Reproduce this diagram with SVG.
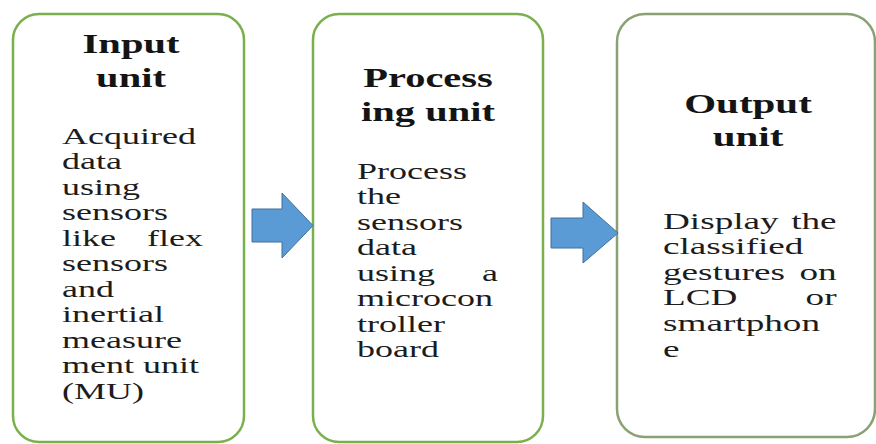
<svg xmlns="http://www.w3.org/2000/svg" width="876" height="444" viewBox="0 0 876 444">
<style>
.box{fill:#ffffff;stroke:#79b04c;stroke-width:2.5}
.box3{fill:#ffffff;stroke:#8aa174;stroke-width:2.5}
.title{font-family:"Liberation Serif","Times New Roman",serif;font-weight:bold;font-size:27px;fill:#141414;text-anchor:middle}
.body{font-family:"Liberation Serif","Times New Roman",serif;font-size:24px;fill:#1c1c1c}
.end{text-anchor:end}
.arrow{fill:#5b9bd5;stroke:#41719c;stroke-width:1}
</style>
<rect width="876" height="444" fill="#ffffff"/>
<g id="input-unit">
<rect class="box" x="13" y="14" width="231" height="428" rx="26" ry="26"/>
<g class="title" transform="translate(131 0) scale(1.5 1)">
<text x="0" y="53">Input</text>
<text x="0" y="87">unit</text>
</g>
<g class="body" transform="translate(62 0) scale(1.5 1)">
<text x="0" y="144">Acquired</text>
<text x="0" y="169.5">data</text>
<text x="0" y="195">using</text>
<text x="0" y="220.5">sensors</text>
<text x="0" y="246">like</text>
<text class="end" x="94" y="246">flex</text>
<text x="0" y="271.5">sensors</text>
<text x="0" y="297">and</text>
<text x="0" y="322.5">inertial</text>
<text x="0" y="348">measure</text>
<text x="0" y="373.5">ment unit</text>
<text x="0" y="399">(MU)</text>
</g>
</g>
<g id="processing-unit">
<rect class="box" x="313" y="14" width="230" height="428" rx="26" ry="26"/>
<g class="title" transform="translate(428 0) scale(1.5 1)">
<text x="0" y="87">Process</text>
<text x="0" y="121">ing unit</text>
</g>
<g class="body" transform="translate(357 0) scale(1.5 1)">
<text x="0" y="179">Process</text>
<text x="0" y="204.5">the</text>
<text x="0" y="230">sensors</text>
<text x="0" y="255.5">data</text>
<text x="0" y="281">using</text>
<text class="end" x="94" y="281">a</text>
<text x="0" y="306.5">microcon</text>
<text x="0" y="332">troller</text>
<text x="0" y="357.5">board</text>
</g>
</g>
<g id="output-unit">
<rect class="box3" x="617" y="14" width="258" height="423" rx="28" ry="28"/>
<g class="title" transform="translate(748 0) scale(1.52 1)">
<text x="0" y="113">Output</text>
<text x="0" y="146">unit</text>
</g>
<g class="body" transform="translate(663 0) scale(1.55 1)">
<text x="0" y="229">Display</text>
<text class="end" x="112" y="229">the</text>
<text x="0" y="254.5">classified</text>
<text x="0" y="280">gestures</text>
<text class="end" x="112" y="280">on</text>
<text x="0" y="305.5">LCD</text>
<text class="end" x="112" y="305.5">or</text>
<text x="0" y="331">smartphon</text>
<text x="0" y="357">e</text>
</g>
</g>
<g id="connectors">
<polygon class="arrow" points="252,209 282,209 282,193 313,225.5 282,258 282,242 252,242"/>
<polygon class="arrow" points="551,218 583,218 583,202 618,233 583,263 583,248 551,248"/>
</g>
</svg>
